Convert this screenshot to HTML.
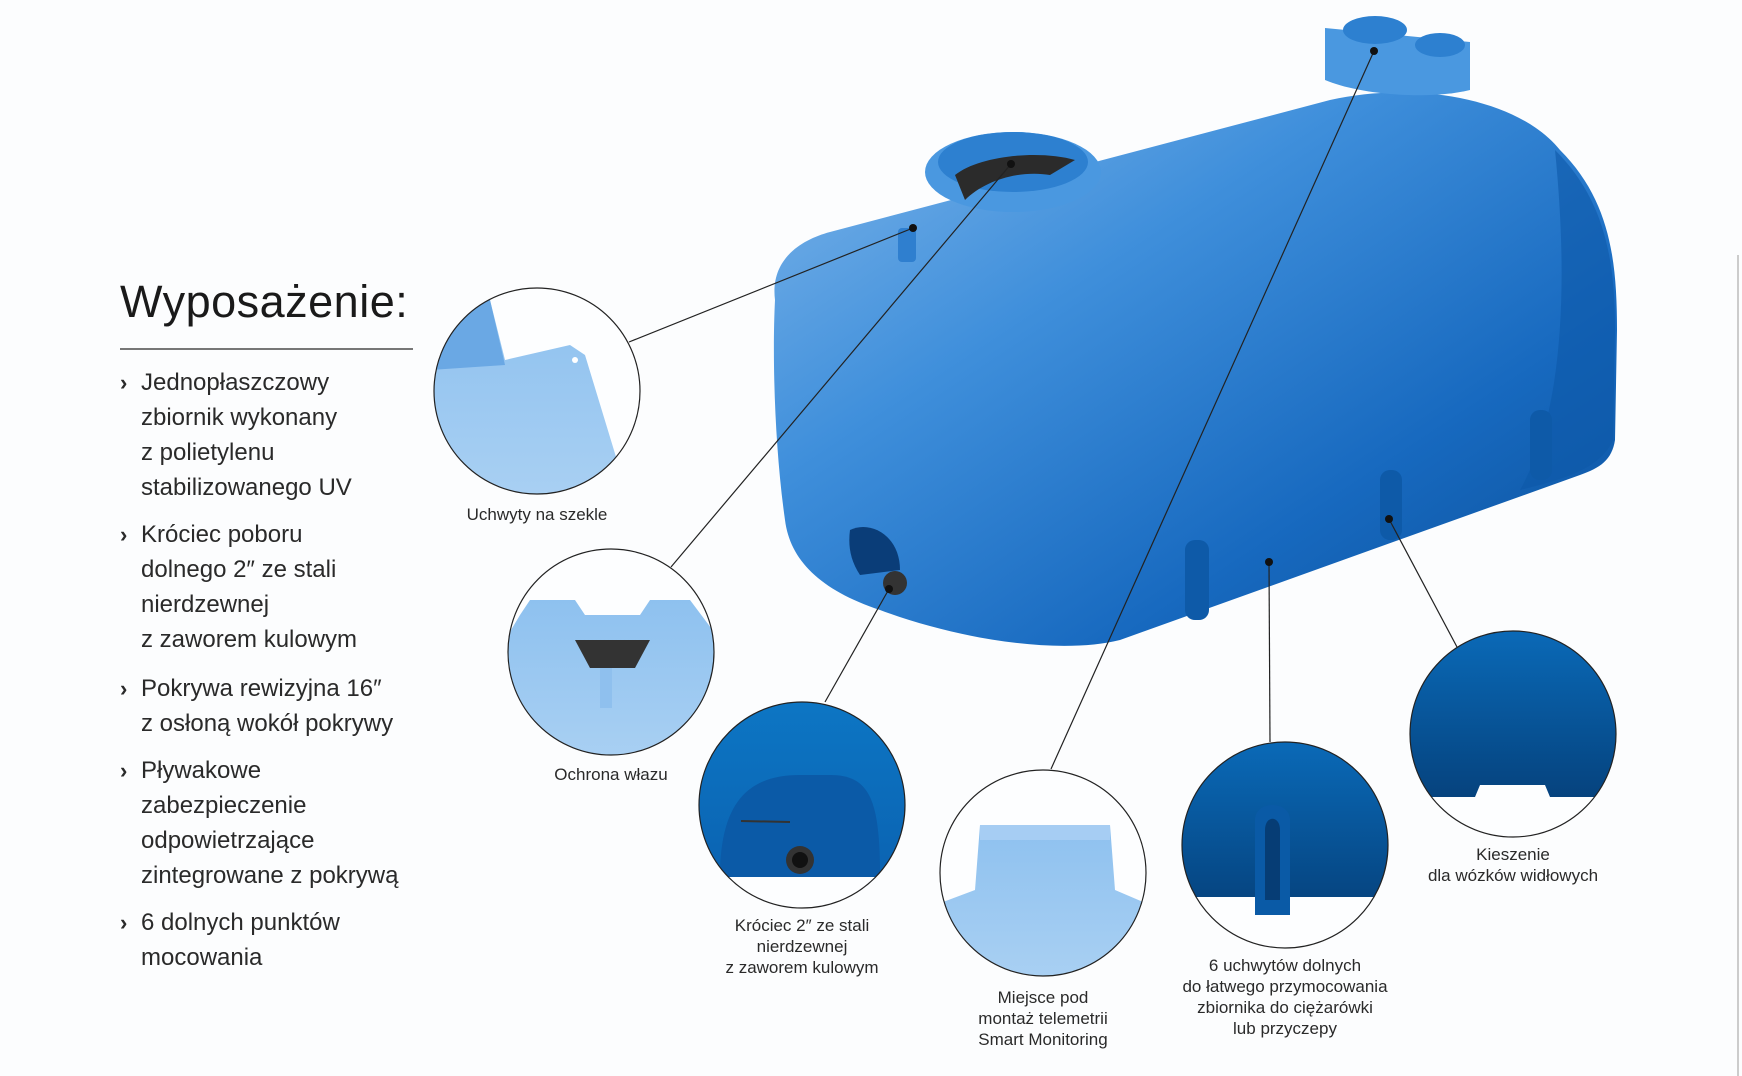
<!DOCTYPE html>
<html><head><meta charset="utf-8"><style>
html,body{margin:0;padding:0}
body{width:1742px;height:1076px;overflow:hidden;background:#fcfdfe;font-family:"Liberation Sans",sans-serif;color:#222;position:relative}
.t{position:absolute;left:120px;top:276px;font-size:45px;font-weight:300;letter-spacing:0.5px;color:#1a1a1a}
.hr{position:absolute;left:120px;top:348px;width:293px;height:2px;background:#777}
.li{position:absolute;left:141px;font-size:24px;line-height:35px;color:#2a2a2a}
.li b{position:absolute;left:-21px;font-weight:bold;font-size:22px}
.lab{position:absolute;font-size:17px;line-height:21px;text-align:center;color:#2a2a2a;width:300px}
</style></head><body>
<div class="t">Wyposażenie:</div>
<div class="hr"></div>
<div class="li" style="top:365px"><b>›</b>Jednopłaszczowy<br>zbiornik wykonany<br>z polietylenu<br>stabilizowanego UV</div>
<div class="li" style="top:517px"><b>›</b>Króciec poboru<br>dolnego 2″ ze stali<br>nierdzewnej<br>z zaworem kulowym</div>
<div class="li" style="top:671px"><b>›</b>Pokrywa rewizyjna 16″<br>z osłoną wokół pokrywy</div>
<div class="li" style="top:753px"><b>›</b>Pływakowe<br>zabezpieczenie<br>odpowietrzające<br>zintegrowane z pokrywą</div>
<div class="li" style="top:905px"><b>›</b>6 dolnych punktów<br>mocowania</div>

<svg width="1742" height="1076" style="position:absolute;left:0;top:0" xmlns="http://www.w3.org/2000/svg">
<defs>
<linearGradient id="tank" x1="0" y1="0" x2="1" y2="1">
<stop offset="0" stop-color="#7fb6ea"/><stop offset="0.35" stop-color="#3f8fdb"/><stop offset="0.7" stop-color="#1769bf"/><stop offset="1" stop-color="#0b4f98"/></linearGradient>
<linearGradient id="lt" x1="0" y1="0" x2="0" y2="1"><stop offset="0" stop-color="#8ec1ef"/><stop offset="1" stop-color="#a9d0f3"/></linearGradient>
<linearGradient id="dk" x1="0" y1="0" x2="0" y2="1"><stop offset="0" stop-color="#0a6ab8"/><stop offset="1" stop-color="#04386e"/></linearGradient>
<linearGradient id="dk2" x1="0" y1="0" x2="0" y2="1"><stop offset="0" stop-color="#0d76c4"/><stop offset="1" stop-color="#0a5fae"/></linearGradient>
<clipPath id="c1"><circle cx="537" cy="391" r="103"/></clipPath>
<clipPath id="c2"><circle cx="611" cy="652" r="103"/></clipPath>
<clipPath id="c3"><circle cx="802" cy="805" r="103"/></clipPath>
<clipPath id="c4"><circle cx="1043" cy="873" r="103"/></clipPath>
<clipPath id="c5"><circle cx="1285" cy="845" r="103"/></clipPath>
<clipPath id="c6"><circle cx="1513" cy="734" r="103"/></clipPath>
</defs>
<line x1="1738" y1="255" x2="1738" y2="1076" stroke="#ccc" stroke-width="2"/>
<!-- tank -->
<path d="M775,300 C770,260 800,240 830,232 L1330,100 C1420,80 1520,100 1560,150 C1610,200 1617,260 1617,330 L1615,440 C1612,460 1600,468 1580,475 L1120,640 C1060,655 960,640 880,610 C820,590 790,560 785,520 C775,450 772,360 775,300 Z" fill="url(#tank)"/>
<path d="M1555,150 C1605,200 1615,260 1615,330 L1613,440 C1600,470 1560,480 1520,490 C1560,420 1570,300 1555,150Z" fill="#0d58a8" opacity="0.6"/>
<!-- feet -->
<g fill="#0e5aa8"><rect x="1185" y="540" width="24" height="80" rx="10"/><rect x="1380" y="470" width="22" height="70" rx="10"/><rect x="1530" y="410" width="22" height="70" rx="10"/></g>
<!-- lids -->
<ellipse cx="1013" cy="172" rx="88" ry="40" fill="#4a98e0"/>
<ellipse cx="1013" cy="162" rx="75" ry="30" fill="#2d80d0"/>
<path d="M955,175 C980,155 1040,150 1075,160 L1050,175 C1020,170 985,180 965,200Z" fill="#2b2b2b"/>
<path d="M1325,28 L1470,42 L1470,90 C1430,100 1360,95 1325,80Z" fill="#4a98e0"/>
<ellipse cx="1375" cy="30" rx="32" ry="14" fill="#2d80d0"/>
<ellipse cx="1440" cy="45" rx="25" ry="12" fill="#2d80d0"/>
<rect x="898" y="228" width="18" height="34" rx="4" fill="#2f7fcf"/>
<path d="M850,530 C870,520 900,535 900,570 L860,575 C850,560 848,545 850,530Z" fill="#0a3d78"/>
<circle cx="895" cy="583" r="12" fill="#333"/>
<!-- connectors -->
<g stroke="#222" stroke-width="1.2" fill="none">
<line x1="629" y1="342" x2="913" y2="228"/>
<line x1="671" y1="567" x2="1011" y2="164"/>
<line x1="825" y1="702" x2="889" y2="589"/>
<line x1="1051" y1="769" x2="1374" y2="51"/>
<line x1="1270" y1="742" x2="1269" y2="562"/>
<line x1="1457" y1="647" x2="1389" y2="519"/>
</g>
<g fill="#111"><circle cx="913" cy="228" r="4"/><circle cx="1011" cy="164" r="4"/><circle cx="889" cy="589" r="4"/><circle cx="1374" cy="51" r="4"/><circle cx="1269" cy="562" r="4"/><circle cx="1389" cy="519" r="4"/></g>
<!-- circle 1 -->
<g clip-path="url(#c1)"><rect x="430" y="285" width="215" height="215" fill="#fdfeff"/>
<path d="M430,300 L490,300 L505,360 L570,345 L585,355 L620,470 L640,500 L430,500Z" fill="url(#lt)"/>
<path d="M430,300 L490,300 L505,365 L430,370Z" fill="#6aa8e4"/>
<circle cx="575" cy="360" r="3" fill="#fff"/></g>
<circle cx="537" cy="391" r="103" fill="none" stroke="#222" stroke-width="1.2"/>
<!-- circle 2 -->
<g clip-path="url(#c2)"><rect x="505" y="545" width="215" height="215" fill="#fdfeff"/>
<path d="M505,640 L520,615 L530,600 L575,600 L585,615 L640,615 L650,600 L690,600 L720,640 L720,760 L505,760Z" fill="url(#lt)"/>
<path d="M575,640 L650,640 L635,668 L590,668Z" fill="#333"/>
<rect x="600" y="668" width="12" height="40" fill="#8fc0ee"/></g>
<circle cx="611" cy="652" r="103" fill="none" stroke="#222" stroke-width="1.2"/>
<!-- circle 3 -->
<g clip-path="url(#c3)"><rect x="695" y="700" width="215" height="215" fill="url(#dk2)"/>
<path d="M720,877 C720,800 750,775 800,775 L830,775 C870,775 880,800 880,877Z" fill="#0b5aa7"/>
<rect x="695" y="877" width="215" height="40" fill="#fdfeff"/>
<circle cx="800" cy="860" r="14" fill="#333"/><circle cx="800" cy="860" r="8" fill="#111"/>
<line x1="741" y1="821" x2="790" y2="822" stroke="#333" stroke-width="2"/></g>
<circle cx="802" cy="805" r="103" fill="none" stroke="#222" stroke-width="1.2"/>
<!-- circle 4 -->
<g clip-path="url(#c4)"><rect x="935" y="765" width="215" height="215" fill="#fdfeff"/>
<path d="M980,825 L1110,825 L1115,890 L1150,905 L1150,980 L935,980 L935,905 L975,890Z" fill="url(#lt)"/>
<path d="M980,825 L1110,825 L1110,840 L980,840Z" fill="#a6cdf3"/></g>
<circle cx="1043" cy="873" r="103" fill="none" stroke="#222" stroke-width="1.2"/>
<!-- circle 5 -->
<g clip-path="url(#c5)"><rect x="1180" y="740" width="215" height="215" fill="url(#dk)"/>
<rect x="1180" y="897" width="215" height="60" fill="#fdfeff"/>
<path d="M1255,915 L1255,820 C1255,800 1290,800 1290,820 L1290,915Z" fill="#0a5aa6"/>
<path d="M1265,900 L1265,830 C1265,815 1280,815 1280,830 L1280,900Z" fill="#063d75"/></g>
<circle cx="1285" cy="845" r="103" fill="none" stroke="#222" stroke-width="1.2"/>
<!-- circle 6 -->
<g clip-path="url(#c6)"><rect x="1405" y="628" width="215" height="215" fill="url(#dk)"/>
<path d="M1405,797 L1475,797 L1480,785 L1545,785 L1550,797 L1620,797 L1620,845 L1405,845Z" fill="#fdfeff"/></g>
<circle cx="1513" cy="734" r="103" fill="none" stroke="#222" stroke-width="1.2"/>
</svg>

<div class="lab" style="left:387px;top:504px">Uchwyty na szekle</div>
<div class="lab" style="left:461px;top:764px">Ochrona włazu</div>
<div class="lab" style="left:652px;top:915px">Króciec 2″ ze stali<br>nierdzewnej<br>z zaworem kulowym</div>
<div class="lab" style="left:893px;top:987px">Miejsce pod<br>montaż telemetrii<br>Smart Monitoring</div>
<div class="lab" style="left:1135px;top:955px">6 uchwytów dolnych<br>do łatwego przymocowania<br>zbiornika do ciężarówki<br>lub przyczepy</div>
<div class="lab" style="left:1363px;top:844px">Kieszenie<br>dla wózków widłowych</div>
</body></html>
